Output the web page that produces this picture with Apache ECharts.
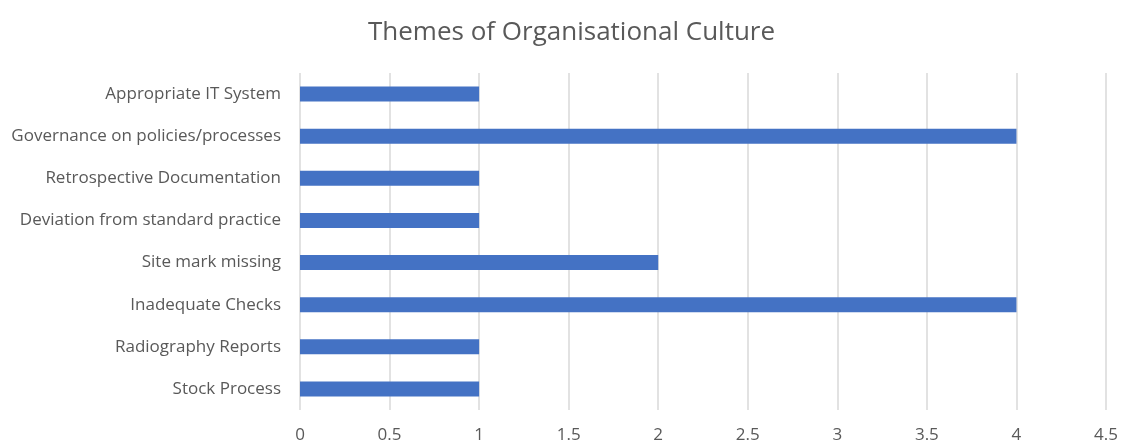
<!DOCTYPE html>
<html><head><meta charset="utf-8">
<script src="https://cdn.jsdelivr.net/npm/echarts@6/dist/echarts.min.js"></script>
<style>html,body{margin:0;padding:0;background:#fff}#c{width:1121px;height:441px}</style>
</head><body><div id="c"></div>
<script>
const categories = ["Appropriate IT System","Governance on policies/processes","Retrospective Documentation","Deviation from standard practice","Site mark missing","Inadequate Checks","Radiography Reports","Stock Process"];
const values = [1,4,1,1,2,4,1,1];
const xTicks = [0,0.5,1,1.5,2,2.5,3,3.5,4,4.5];
const chart = echarts.init(document.getElementById('c'), null, {renderer:'canvas'});
chart.setOption({
  animation:false,
  backgroundColor:'#fff',
  title:{text:'Themes of Organisational Culture',left:363,top:15,textStyle:{fontFamily:'Open Sans',fontSize:26,fontWeight:'normal',color:'#595959'}},
  grid:{left:300,right:15,top:73,bottom:31,containLabel:false,outerBoundsMode:'none'},
  xAxis:{type:'value',min:0,max:4.5,interval:0.5,
    axisLine:{show:false},axisTick:{show:false},
    splitLine:{lineStyle:{color:'#d9d9d9',width:1.5}},
    axisLabel:{margin:17,fontFamily:'Open Sans',fontSize:17,color:'#595959',formatter:v=>String(v)}},
  yAxis:{type:'category',data:categories.slice().reverse(),
    axisLine:{show:false},axisTick:{show:false},
    axisLabel:{margin:19,fontFamily:'Open Sans',fontSize:17,color:'#595959'}},
  series:[{type:'bar',data:values.slice().reverse(),barWidth:15,itemStyle:{color:'#4472C4'}}]
});
</script></body></html>
